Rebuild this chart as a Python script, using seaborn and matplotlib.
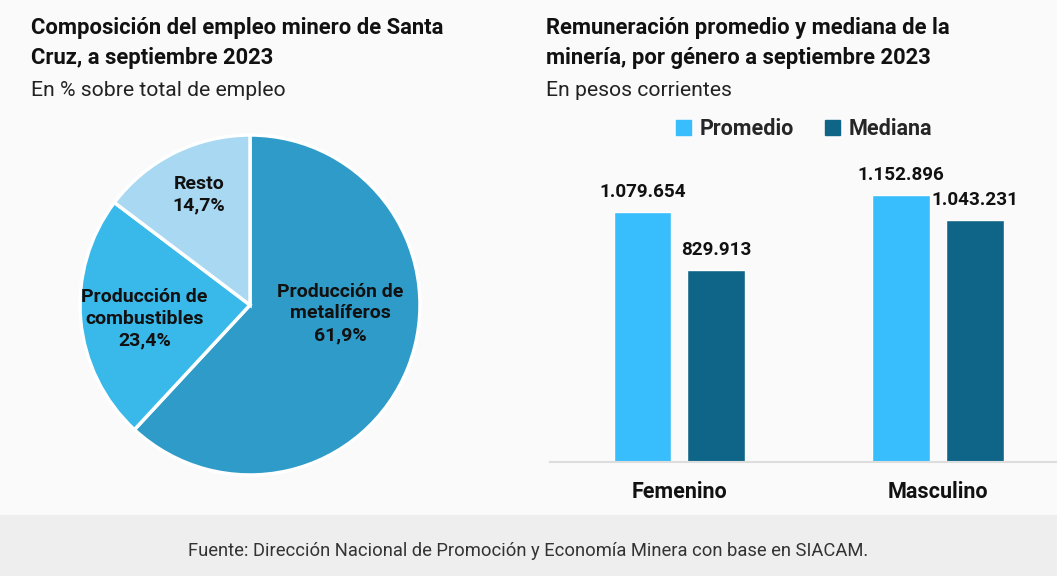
import matplotlib
matplotlib.use('Agg')
import matplotlib.pyplot as plt
import matplotlib.patches as mpatches
import pandas as pd
import seaborn as sns

# Data
pie_labels = ['Producción de\nmetalíferos', 'Producción de\ncombustibles', 'Resto']
pie_values = [61.9, 23.4, 14.7]
pie_colors = ['#2E9BC8', '#38B9EA', '#A8D8F2']

generos = ['Femenino', 'Masculino']
promedio = [1079654, 1152896]
mediana = [829913, 1043231]
series_names = ['Promedio', 'Mediana']
bar_colors = ['#38BDFD', '#0E6587']

sns.set_theme(style='white')
plt.rcParams['font.family'] = ['Roboto', 'DejaVu Sans']

W, H = 1057, 576
fig = plt.figure(figsize=(W / 100, H / 100), dpi=100)
fig.patch.set_facecolor('#FAFAFA')


def box(x0, y0, x1, y1):
    # pixel box (top-left origin) -> figure fraction rect
    return [x0 / W, 1 - y1 / H, (x1 - x0) / W, (y1 - y0) / H]


# footer band
fig.patches.append(mpatches.Rectangle((0, 0), 1, 61 / H, transform=fig.transFigure,
                                      facecolor='#EEEEEE', edgecolor='none', zorder=0))
fig.text(528 / W, 1 - 551 / H,
         'Fuente: Dirección Nacional de Promoción y Economía Minera con base en SIACAM.',
         ha='center', va='center', fontsize=13.2, color='#333333')

# titles
fig.text(31 / W, 1 - 43 / H, 'Composición del empleo minero de Santa\nCruz, a septiembre 2023',
         ha='left', va='center', fontsize=15.8, fontweight='bold', color='#111111', linespacing=1.5)
fig.text(31 / W, 1 - 90 / H, 'En % sobre total de empleo', ha='left', va='center',
         fontsize=15.2, color='#222222')
fig.text(546 / W, 1 - 43 / H, 'Remuneración promedio y mediana de la\nminería, por género a septiembre 2023',
         ha='left', va='center', fontsize=15.8, fontweight='bold', color='#111111', linespacing=1.5)
fig.text(546 / W, 1 - 90 / H, 'En pesos corrientes', ha='left', va='center',
         fontsize=15.2, color='#222222')

# Pie
ax1 = fig.add_axes(box(80, 135, 420, 475))
wedges, _ = ax1.pie(pie_values, colors=pie_colors, startangle=90, counterclock=False,
                    wedgeprops=dict(edgecolor='white', linewidth=2.5))
ax1.set_xlim(-1, 1)
ax1.set_ylim(-1, 1)
ax1.set_aspect('equal')
label_pos = [(0.53, -0.05), (-0.62, -0.08), (-0.30, 0.65)]
for lab, val, (x, y) in zip(pie_labels, pie_values, label_pos):
    ax1.text(x, y, f'{lab}\n{val:.1f}%'.replace('.', ','), ha='center', va='center',
             fontsize=14, fontweight='bold', color='#111111', linespacing=1.25)

# Bars
df = pd.DataFrame({
    'genero': generos * 2,
    'serie': [series_names[0]] * 2 + [series_names[1]] * 2,
    'valor': promedio + mediana,
})
ax2 = fig.add_axes(box(550, 150, 1057, 462))
ax2.set_facecolor('none')
sns.barplot(data=df, x='genero', y='valor', hue='serie', palette=bar_colors,
            width=0.57, gap=0.22, ax=ax2, legend=False, saturation=1)
ax2.set_xlim(-0.5, 1.46)
ax2.set_ylim(0, 1347400)
for s in ['top', 'right', 'left']:
    ax2.spines[s].set_visible(False)
ax2.spines['bottom'].set_color('#DDDDDD')
ax2.spines['bottom'].set_linewidth(1.5)
ax2.set_yticks([])
ax2.set_xlabel('')
ax2.set_ylabel('')
ax2.tick_params(axis='x', length=0, pad=14)
for t in ax2.get_xticklabels():
    t.set_fontsize(15.5)
    t.set_fontweight('bold')
    t.set_color('#111111')
for cont in ax2.containers:
    ax2.bar_label(cont, labels=[f'{v:,.0f}'.replace(',', '.') for v in cont.datavalues],
                  padding=8, fontsize=13.6, fontweight='bold', color='#111111')

handles = [mpatches.Patch(color=c) for c in bar_colors]
fig.legend(handles, series_names, loc='center', bbox_to_anchor=(804 / W, 1 - 129 / H),
           ncol=2, frameon=False, handlelength=0.7, handleheight=0.7, handletextpad=0.4,
           columnspacing=1.4, prop=dict(size=15.5, weight='bold'))

fig.savefig('out.png', dpi=100, facecolor=fig.get_facecolor())
